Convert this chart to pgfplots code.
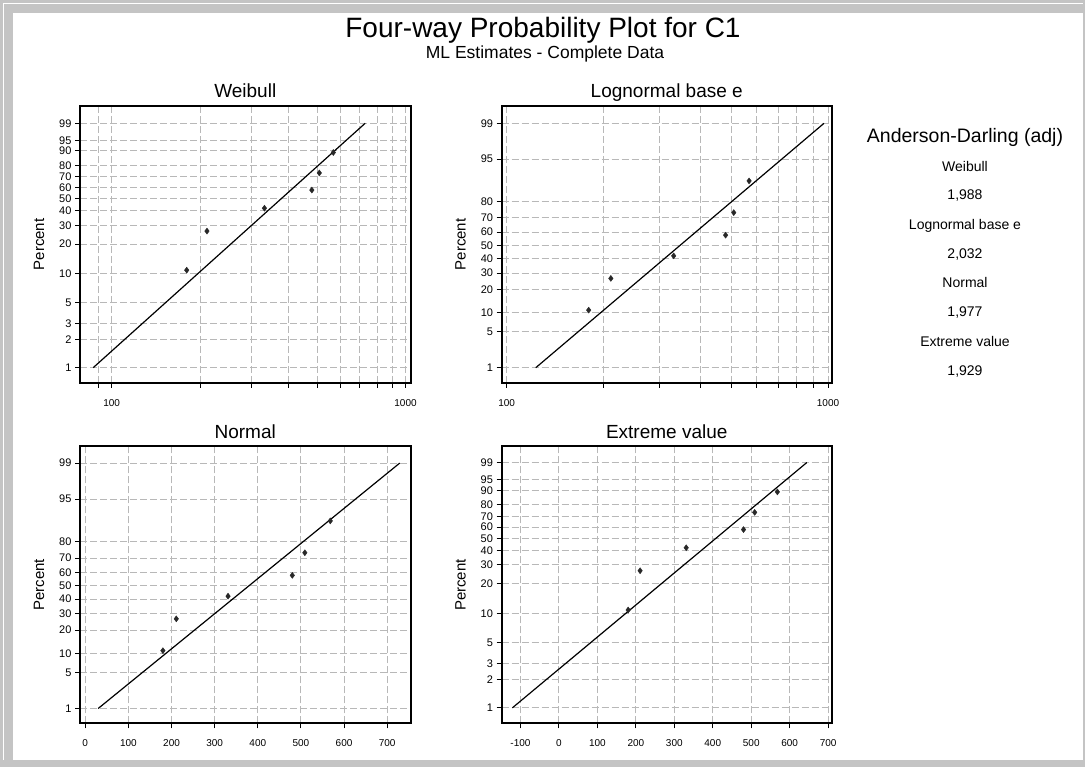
\documentclass[border=0pt]{standalone}
\usepackage{fontspec}
\setmainfont{Liberation Sans}
\usepackage{pgfplots}
\pgfplotsset{compat=1.18}

\definecolor{gridgray}{RGB}{184,184,184}
\definecolor{framegray}{RGB}{196,196,196}
\definecolor{markgray}{RGB}{40,40,40}

\pgfplotsset{
  panel/.style={
    scale only axis, width=330.5pt, height=277pt,
    axis line style={line width=2pt},
    tick align=outside, xtick pos=bottom, ytick pos=left,
    major tick length=5pt, minor tick length=5pt,
    every tick/.style={black, line width=1pt},
    grid=both,
    major grid style={gridgray, line width=1pt, dash pattern=on 7pt off 3pt},
    minor grid style={gridgray, line width=1pt, dash pattern=on 7pt off 3pt},
    /pgf/number format/assume math mode=true,
    xticklabel style={font=\fontsize{10}{12}\selectfont, yshift=-7.5pt},
    yticklabel style={font=\fontsize{11}{13}\selectfont},
    title style={font=\fontsize{19}{22}\selectfont, at={(axis description cs:0.5,1)}, anchor=base, yshift=2pt},
    ylabel={Percent},
    ylabel style={font=\fontsize{15}{18}\selectfont, at={(axis description cs:-0.124,0.5)}, anchor=center},
  },
  % percent scales, already transformed
  % smallest extreme value / Weibull: ln(-ln(1-p))
  sevy/.style={
    ytick={-4.60015,-3.90194,-3.49137,-2.97020,-2.25037,-1.49994,-1.03093,-0.67173,-0.36651,-0.08742,0.18563,0.47588,0.83403,1.09719,1.52718},
    yticklabels={1,2,3,5,10,20,30,40,50,60,70,80,90,95,99}},
  % normal / lognormal: z(p)
  nory/.style={
    ytick={-2.32635,-1.64485,-1.28155,-0.84162,-0.52440,-0.25335,0,0.25335,0.52440,0.84162,1.64485,2.32635},
    yticklabels={1,5,10,20,30,40,50,60,70,80,95,99}},
  fitline/.style={black, line width=1.2pt, no marks},
  pts/.style={only marks, mark=diamond*, mark size=3pt, markgray},
}

\begin{document}
\begin{tikzpicture}
\useasboundingbox (0pt,0pt) rectangle (1085pt,767pt);
% window frame
\fill[framegray] (0pt,0pt) rectangle (1085pt,767pt);
\draw[white, line width=1pt] (3.5pt,7pt) -- (3.5pt,763.5pt) -- (1083pt,763.5pt);
\fill[white] (13pt,7pt) rectangle (1083pt,754pt);

\node[anchor=base, font=\fontsize{28}{32}\selectfont] at (543pt,729pt) {Four-way Probability Plot for C1};
\node[anchor=base, font=\fontsize{17.5}{20}\selectfont] at (545pt,708.7pt) {ML Estimates - Complete Data};

% Weibull
\begin{axis}[panel, sevy, at={(80pt,384pt)}, anchor=south west, title={Weibull},
  xmode=log, log basis x=10, xmin=78, xmax=1040, ymin=-4.984, ymax=1.961,
  xtick={100,1000}, xticklabels={100,1000},
  minor xtick={90,200,300,400,500,600,700,800,900}]
\addplot[fitline] coordinates {(86.5,-4.60015) (729,1.52718)};
\addplot[pts] coordinates {
  (180,-2.15561) (211,-1.17527) (331,-0.60155)
  (480,-0.14728) (509,0.28192) (568,0.79434)};
\end{axis}

% Lognormal base e
\begin{axis}[panel, nory, at={(501.5pt,384pt)}, anchor=south west, title={Lognormal base e},
  xmode=log, log basis x=10, xmin=96.4, xmax=1029, ymin=-2.617, ymax=2.656,
  xtick={100,1000}, xticklabels={100,1000},
  minor xtick={200,300,400,500,600,700,800,900}]
\addplot[fitline] coordinates {(123.2,-2.32635) (971.6,2.32635)};
\addplot[pts] coordinates {
  (180,-1.22986) (211,-0.62611) (331,-0.19710)
  (480,0.19710) (509,0.62611) (568,1.22986)};
\end{axis}

% Normal
\begin{axis}[panel, nory, at={(80pt,43.5pt)}, anchor=south west, title={Normal},
  xmin=-12.2, xmax=754, ymin=-2.611, ymax=2.641,
  xtick={0,100,...,700}]
\addplot[fitline] coordinates {(30,-2.32635) (729,2.32635)};
\addplot[pts] coordinates {
  (180,-1.22986) (211,-0.62611) (331,-0.19710)
  (480,0.19710) (509,0.62611) (568,1.22986)};
\end{axis}

% Extreme value
\begin{axis}[panel, sevy, at={(501.5pt,43.5pt)}, anchor=south west, title={Extreme value},
  xmin=-149.3, xmax=710, ymin=-4.991, ymax=1.928,
  xtick={-100,0,...,700}]
\addplot[fitline] coordinates {(-121,-4.60015) (644.5,1.52718)};
\addplot[pts] coordinates {
  (180,-2.15561) (211,-1.17527) (331,-0.60155)
  (480,-0.14728) (509,0.28192) (568,0.79434)};
\end{axis}

% Anderson-Darling table
\node[anchor=base, font=\fontsize{19.5}{22}\selectfont] at (965pt,624.3pt) {Anderson-Darling (adj)};
\begin{scope}[every node/.style={anchor=base, font=\fontsize{14}{16}\selectfont}]
\node at (965pt,595.3pt) {Weibull};
\node at (965pt,567pt) {1,988};
\node at (965pt,537.7pt) {Lognormal base e};
\node at (965pt,508.7pt) {2,032};
\node at (965pt,479.7pt) {Normal};
\node at (965pt,450.3pt) {1,977};
\node at (965pt,420.3pt) {Extreme value};
\node at (965pt,391pt) {1,929};
\end{scope}
\end{tikzpicture}
\end{document}
